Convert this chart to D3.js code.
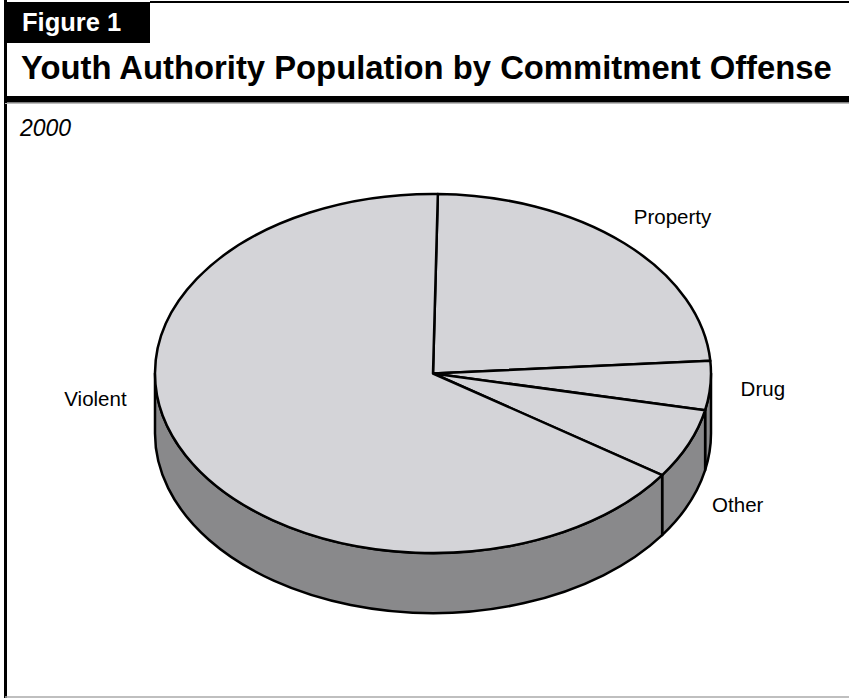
<!DOCTYPE html>
<html>
<head>
<meta charset="utf-8">
<script src="https://cdn.jsdelivr.net/npm/d3@7"></script>
<style>
  html, body { margin: 0; padding: 0; background: #fff; }
  svg { display: block; }
  text { font-family: "Liberation Sans", Arial, Helvetica, sans-serif; }
</style>
</head>
<body>
<svg id="chart" width="849" height="698"></svg>
<script>
// Commitment offense shares of the Youth Authority population, 2000 (percent)
const categories = ["Property", "Drug", "Other", "Violent"];
const shares = [23.6, 4.4, 6.3, 65.7];
const figureLabel = "Figure 1";
const titleText = "Youth Authority Population by Commitment Offense";
const subtitleText = "2000";

// Layout of the tilted pie
const cx = 433, cy = 373.5, rx = 278, ry = 179.5, depth = 60;
const firstSliceDeg = 1.0;
const topFill = "#d4d4d8", sideFill = "#89898b";
const edge = 2.5;

const svg = d3.select("#chart");
const W = 849, H = 698;

// ---- frame ----
svg.append("line").attr("x1", 5.5).attr("x2", 5.5).attr("y1", 0).attr("y2", H)
  .attr("stroke", "#000").attr("stroke-width", 3);
svg.append("line").attr("x1", 5).attr("x2", W).attr("y1", 697).attr("y2", 697)
  .attr("stroke", "#aaa").attr("stroke-width", 1.5);
svg.append("line").attr("x1", 150).attr("x2", W).attr("y1", 2).attr("y2", 2)
  .attr("stroke", "#000").attr("stroke-width", 2);
svg.append("rect").attr("x", 4).attr("y", 2).attr("width", 146).attr("height", 41)
  .attr("fill", "#000");
svg.append("text").attr("x", 22).attr("y", 31)
  .attr("fill", "#fff").attr("font-weight", "bold").attr("font-size", 25.5)
  .text(figureLabel);
svg.append("text").attr("x", 21).attr("y", 79)
  .attr("fill", "#000").attr("font-weight", "bold").attr("font-size", 32.8)
  .text(titleText);
svg.append("rect").attr("x", 5).attr("y", 96).attr("width", W - 5).attr("height", 6.5)
  .attr("fill", "#000");
svg.append("line").attr("x1", 5).attr("x2", W).attr("y1", 103.5).attr("y2", 103.5)
  .attr("stroke", "#bbb").attr("stroke-width", 1);
svg.append("text").attr("x", 20).attr("y", 136)
  .attr("font-style", "italic").attr("font-size", 23).attr("fill", "#000")
  .text(subtitleText);

// ---- pie ----
const data = categories.map((c, i) => ({ name: c, value: shares[i] }));
const a0 = firstSliceDeg * Math.PI / 180;
const pie = d3.pie().sort(null).value(d => d.value)
  .startAngle(a0).endAngle(a0 + 2 * Math.PI);
const slices = pie(data);

// angle measured clockwise from 12 o'clock, projected onto the ellipse
const px = (a, k = 1) => cx + rx * k * Math.sin(a);
const py = (a, k = 1, dy = 0) => cy - ry * k * Math.cos(a) + dy;

function topPath(s) {
  const large = (s.endAngle - s.startAngle) > Math.PI ? 1 : 0;
  return `M${cx},${cy}L${px(s.startAngle)},${py(s.startAngle)}` +
    `A${rx},${ry} 0 ${large} 1 ${px(s.endAngle)},${py(s.endAngle)}Z`;
}

// front wall: only the part facing the viewer (between 3 and 9 o'clock)
function sidePath(s) {
  const lo = Math.PI / 2, hi = 3 * Math.PI / 2;
  const b0 = Math.max(s.startAngle, lo), b1 = Math.min(s.endAngle, hi);
  if (b1 <= b0) return null;
  const large = (b1 - b0) > Math.PI ? 1 : 0;
  return `M${px(b0)},${py(b0)}` +
    `A${rx},${ry} 0 ${large} 1 ${px(b1)},${py(b1)}` +
    `L${px(b1)},${py(b1, 1, depth)}` +
    `A${rx},${ry} 0 ${large} 0 ${px(b0)},${py(b0, 1, depth)}Z`;
}

const g = svg.append("g");
g.selectAll("path.side")
  .data(slices.filter(s => sidePath(s)))
  .join("path")
  .attr("class", "side")
  .attr("d", sidePath)
  .attr("fill", sideFill)
  .attr("stroke", "#000").attr("stroke-width", edge).attr("stroke-linejoin", "round");

g.selectAll("path.top")
  .data(slices)
  .join("path")
  .attr("class", "top")
  .attr("d", topPath)
  .attr("fill", topFill)
  .attr("stroke", "#000").attr("stroke-width", edge).attr("stroke-linejoin", "round");

// category labels, set outside each slice from its mid angle
const labelRing = 1.2;
const labelNudge = {
  Property: [10, 7],
  Drug: [-3, 8],
  Other: [-2, 54],
  Violent: [-41, -66]
};
svg.selectAll("text.cat")
  .data(slices)
  .join("text")
  .attr("class", "cat")
  .attr("text-anchor", "middle")
  .attr("font-size", 20.5)
  .attr("fill", "#000")
  .attr("x", s => px((s.startAngle + s.endAngle) / 2, labelRing) + labelNudge[s.data.name][0])
  .attr("y", s => py((s.startAngle + s.endAngle) / 2, labelRing) + labelNudge[s.data.name][1])
  .text(s => s.data.name);
</script>
</body>
</html>
